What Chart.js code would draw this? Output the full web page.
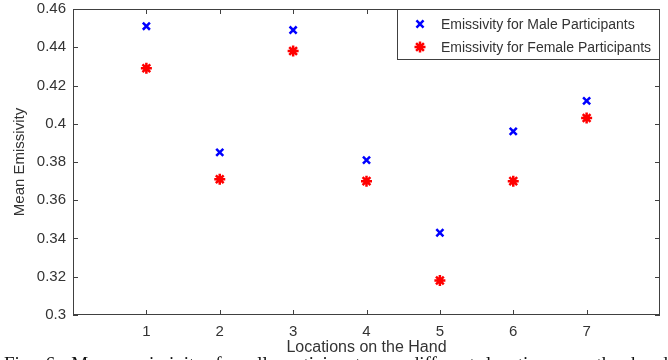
<!DOCTYPE html>
<html lang="en">
<head>
  <meta charset="UTF-8" />
  <title>Mean Emissivity</title>
  <script src="https://cdn.jsdelivr.net/npm/chart.js"></script>
  <style>
    html, body { margin: 0; padding: 0; background: #fff; overflow: hidden; }
    #wrap { position: relative; width: 668px; height: 360px; }
  </style>
</head>
<body>
  <div id="wrap"><canvas id="chart" width="668" height="360"></canvas></div>

  <script>
    // data
    const locations = [1, 2, 3, 4, 5, 6, 7];
    const maleEmissivity   = [0.451, 0.385, 0.449, 0.381, 0.343, 0.396, 0.412];
    const femaleEmissivity = [0.429, 0.371, 0.438, 0.370, 0.318, 0.370, 0.403];
    const seriesLabels = ['Emissivity for Male Participants', 'Emissivity for Female Participants'];
    const xTicks = [1, 2, 3, 4, 5, 6, 7];
    const yTicks = [0.3, 0.32, 0.34, 0.36, 0.38, 0.4, 0.42, 0.44, 0.46];
    const caption = 'Fig. 6. Mean emissivity for all participants on different locations on the hand';

    const axisColor = '#404040';
    const textColor = '#333';
    const sans = '"Liberation Sans", Arial, sans-serif';

    // MATLAB style frame: box on all four sides, ticks pointing inward
    const framePlugin = {
      id: 'frame',
      afterDraw(chart) {
        const { ctx, chartArea: a, scales: { x, y } } = chart;
        ctx.save();
        ctx.strokeStyle = axisColor;
        ctx.lineWidth = 1;
        ctx.strokeRect(a.left + 0.5, a.top + 0.5, a.right - a.left - 1, a.bottom - a.top - 1);
        ctx.beginPath();
        xTicks.forEach(v => {
          const px = Math.round(x.getPixelForValue(v)) + 0.5;
          ctx.moveTo(px, a.bottom); ctx.lineTo(px, a.bottom - 5);
          ctx.moveTo(px, a.top);    ctx.lineTo(px, a.top + 5);
        });
        yTicks.forEach(v => {
          const py = Math.round(y.getPixelForValue(v)) + 0.5;
          ctx.moveTo(a.left, py);  ctx.lineTo(a.left + 5, py);
          ctx.moveTo(a.right, py); ctx.lineTo(a.right - 5, py);
        });
        ctx.stroke();

        // legend box, top right inside the axes
        const lx = 397, ly = a.top, lw = a.right - lx, lh = 51;
        ctx.fillStyle = '#fff';
        ctx.fillRect(lx, ly, lw, lh);
        ctx.strokeRect(lx + 0.5, ly + 0.5, lw - 1, lh - 1);
        ctx.font = '14px ' + sans;
        ctx.textBaseline = 'middle';
        chart.data.datasets.forEach((ds, i) => {
          const cy = ly + 15 + i * 23;
          ctx.strokeStyle = ds.borderColor;
          ctx.fillStyle = ds.backgroundColor;
          ctx.lineWidth = ds.borderWidth;
          Chart.helpers.drawPoint(ctx, { pointStyle: ds.pointStyle, radius: ds.pointRadius, borderWidth: ds.borderWidth }, lx + 23, cy);
          ctx.fillStyle = textColor;
          ctx.fillText(ds.label, lx + 44, cy + 1);
        });

        // figure caption (cut off by the bottom edge, as in the scan)
        ctx.font = '19px "Liberation Serif", "Times New Roman", serif';
        ctx.fillStyle = '#111';
        ctx.textBaseline = 'alphabetic';
        const words = caption.split(' ');
        const total = words.reduce((s, w) => s + ctx.measureText(w).width, 0);
        const gap = Math.max(4, (668 - 4 - total) / (words.length - 1));
        let cx = 4;
        words.forEach(w => { ctx.fillText(w, cx, 370); cx += ctx.measureText(w).width + gap; });
        ctx.restore();
      }
    };

    new Chart(document.getElementById('chart'), {
      type: 'scatter',
      data: {
        datasets: [
          {
            label: seriesLabels[0],
            data: locations.map((l, i) => ({ x: l, y: maleEmissivity[i] })),
            pointStyle: 'crossRot',
            pointRadius: 5,
            borderColor: '#0000ff',
            backgroundColor: '#0000ff',
            borderWidth: 2.5
          },
          {
            label: seriesLabels[1],
            data: locations.map((l, i) => ({ x: l, y: femaleEmissivity[i] })),
            pointStyle: 'star',
            pointRadius: 5.5,
            borderColor: '#ff0000',
            backgroundColor: '#ff0000',
            borderWidth: 2.5
          }
        ]
      },
      options: {
        responsive: false,
        animation: false,
        layout: { padding: { top: 9, right: 7, bottom: 0, left: 0 } },
        plugins: { legend: { display: false }, tooltip: { enabled: false } },
        scales: {
          x: {
            type: 'linear',
            min: 0, max: 8,
            afterFit: s => { s.height = 45; s.paddingLeft = 0; s.paddingRight = 0; },
            afterBuildTicks: s => { s.ticks = xTicks.map(v => ({ value: v })); },
            grid: { display: false, drawTicks: false },
            border: { display: false },
            ticks: { color: textColor, padding: 8, font: { family: sans, size: 15 } },
            title: {
              display: true, text: 'Locations on the Hand', color: textColor,
              font: { family: sans, size: 16 }, padding: { top: 0, bottom: 3 }
            }
          },
          y: {
            min: 0.3, max: 0.46,
            afterFit: s => { s.width = 73; s.paddingTop = 0; s.paddingBottom = 0; },
            afterBuildTicks: s => { s.ticks = yTicks.map(v => ({ value: v })); },
            grid: { display: false, drawTicks: false },
            border: { display: false },
            ticks: {
              color: textColor, padding: 7, font: { family: sans, size: 15 },
              callback: v => String(parseFloat(v.toFixed(2)))
            },
            title: {
              display: true, text: 'Mean Emissivity', color: textColor,
              font: { family: sans, size: 15 }, padding: { top: 11, bottom: 0 }
            }
          }
        }
      },
      plugins: [framePlugin]
    });
  </script>
</body>
</html>
